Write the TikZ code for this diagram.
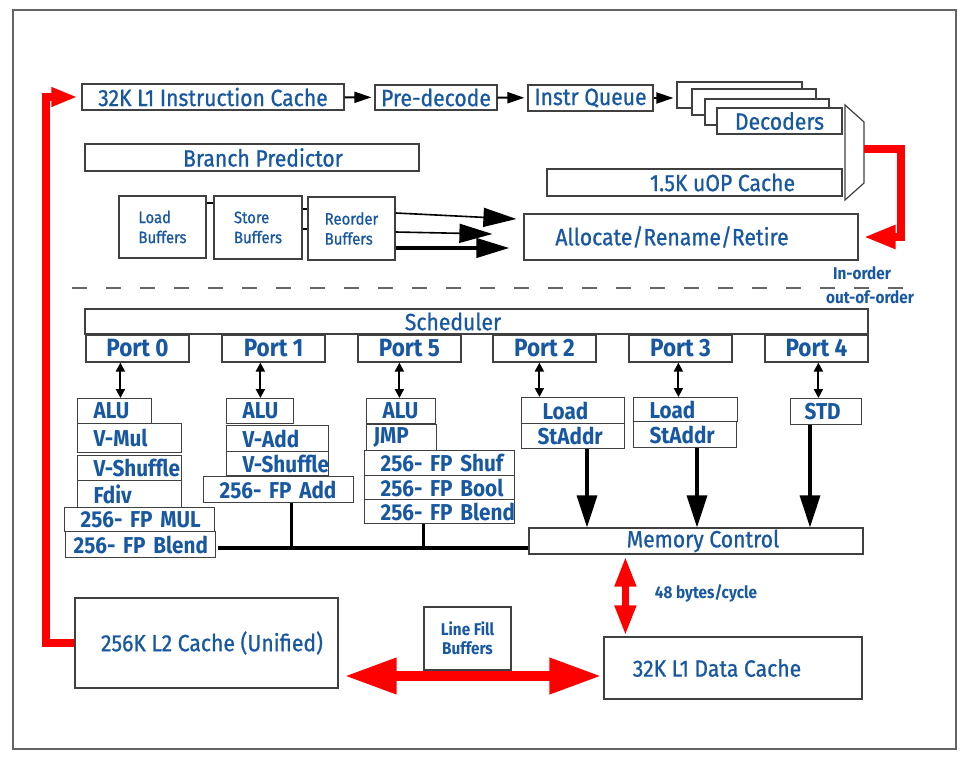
\documentclass[tikz,border=0pt]{standalone}
\usepackage{fontspec}
\setmainfont{Fira Sans}[FakeStretch=0.9]
\newfontfamily\medium{Fira Sans}[FakeStretch=0.9,FakeBold=0.8]
\usetikzlibrary{arrows.meta,calc}
\definecolor{intelblue}{RGB}{24,88,162}
\definecolor{framegray}{RGB}{100,100,100}

\tikzset{
  box/.style={draw=black!75, line width=1.2pt, fill=white, inner sep=0pt, text=intelblue},
  big/.style={font=\fontsize{23.5}{25}\medium},
  port/.style={font=\fontsize{25}{26}\selectfont\bfseries},
  mid/.style={font=\fontsize{23}{24}\selectfont\bfseries},
  small/.style={font=\fontsize{16.5}{20}\medium},
  tiny/.style={font=\fontsize{17}{19}\selectfont\bfseries, text=intelblue},
  unit/.style={box, mid, anchor=north west, align=left, inner ysep=0pt},
  flow/.style={black, line width=2pt, -{Triangle[length=17pt,width=11pt]}, shorten >=3pt},
  fat/.style={black, line width=1.6pt, -{Triangle[length=33pt,width=19pt]}},
  dbl/.style={black, line width=2pt, {Triangle[length=9pt,width=9pt]}-{Triangle[length=9pt,width=9pt]}},
  down/.style={black, line width=3.5pt, -{Triangle[length=32pt,width=20pt]}},
  bus/.style={black, line width=4pt},
  link/.style={black, line width=1.2pt}
}

% a box between two corners: options, name, x1, y1, x2, y2, text
\newcommand{\blk}[7][]{%
  \node[box, minimum width={#5-#3}, minimum height={#6-#4}, #1]
    (#2) at ({(#3+#5)/2},{(#4+#6)/2}) {#7};}
% one execution unit, text set from the left: pad, name, x1, y1, x2, y2, text
\newcommand{\fu}[7][16]{%
  \pgfmathsetmacro\fuw{#5-#3}\pgfmathsetmacro\fuh{#6-#4}\pgfmathsetmacro\futw{#5-#3-2*#1}%
  \node[unit, inner xsep=#1pt, minimum width=\fuw pt, minimum height=\fuh pt,
        text width=\futw pt] (#2) at (#3,#4) {\mbox{#7}};}

\begin{document}
\begin{tikzpicture}[x=1pt,y=-1pt]
  \useasboundingbox (0,0) rectangle (964,759);
  \draw[framegray, line width=1.5pt] (13,10) rectangle (956,749);

  % front end
  \blk[big]{l1i}{82}{84}{344}{110}{32K L1 Instruction Cache}
  \blk[big]{pre}{375}{85}{497}{110}{Pre-decode}
  \blk[big]{iq}{528}{85}{653}{111}{Instr Queue}
  \blk{dec1}{677}{82}{802}{108}{}
  \blk{dec2}{692}{89}{816}{115}{}
  \blk{dec3}{705}{99}{829}{125}{}
  \blk[big]{dec}{717}{108}{842}{134}{Decoders}
  \draw[flow] (l1i) -- (pre);
  \draw[flow] (pre) -- (iq);
  \draw[flow] (iq.east) -- (iq.east -| dec1.west);

  \blk[big]{bp}{85}{144}{419}{171}{\hspace*{22pt}Branch Predictor}
  \blk[big]{uop}{547}{169}{842}{196}{\hspace*{56pt}1.5K uOP Cache}
  \draw[black!75, line width=1.2pt, fill=white]
    (845,105) -- (864,122) -- (864,183) -- (845,200) -- cycle;
  \coordinate (mux) at (864,149);

  \blk[small,align=left]{lb}{119}{196}{206}{258}{Load\\Buffers}
  \blk[small,align=left]{sb}{214}{196}{302}{259}{Store\\Buffers}
  \blk[small,align=left]{rob}{308}{197}{395}{260}{Reorder\\Buffers}
  \draw[link] (lb.east |- 0,203) -- (sb.west |- 0,203);
  \draw[link] (sb.east |- 0,209) -- (rob.west |- 0,209);
  \draw[link] (sb.east |- 0,229) -- (rob.west |- 0,229);

  \blk[big]{alloc}{524}{214}{858}{260}{Allocate/Rename/Retire\hspace*{38pt}}
  \draw[fat] (rob.east |- 0,213) -- ([xshift=-7pt]alloc.west |- 0,219);
  \draw[fat] (rob.east |- 0,232) -- ([xshift=-31pt]alloc.west |- 0,234);
  \draw[fat, line width=4pt] (rob.east |- 0,248) -- ([xshift=-14pt]alloc.west |- 0,248);

  \draw[red, line width=8pt, -{Triangle[length=32pt,width=22pt]}]
    (mux) -| ($(alloc.east)+(42,0)$) -- ([xshift=5pt]alloc.east);

  % in-order / out-of-order split
  \draw[black!60, line width=1.3pt, dash pattern=on 15pt off 19pt] (72,288) -- (918,288);
  \node[tiny] (inord) at (862,273) {In-order};
  \node[tiny] (ooo) at (870,297) {out-of-order};

  % scheduler and ports
  \blk[big]{sch}{85}{309}{868}{334}{Scheduler\hspace*{47pt}}
  \foreach \n/\x in {0/86,1/222,5/358,2/493,3/629,4/765} {
    \blk[port]{p\n}{\x}{335}{\x+103}{362}{Port \n}
  }

  % execution units
  \fu{alu0}{77}{398}{151}{423}{ALU}
  \fu{mul0}{77}{423}{181}{452}{V-Mul}
  \fu{shf0}{77}{455}{181}{480}{V-Shuffle}
  \fu{div0}{77}{480}{181}{507}{Fdiv}
  \fu{fpm0}{64}{507}{214}{531}{256- FP MUL}
  \fu[8]{fpb0}{65}{531}{215}{557}{256- FP Blend}

  \fu{alu1}{226}{398}{293}{423}{ALU}
  \fu{add1}{226}{425}{328}{451}{V-Add}
  \fu{shf1}{226}{451}{328}{475}{V-Shuffle}
  \fu{fpa1}{203}{476}{353}{502}{256- FP Add}

  \fu{alu5}{366}{398}{435}{423}{ALU}
  \fu[7]{jmp5}{366}{424}{436}{450}{JMP}
  \fu{fps5}{364}{450}{514}{475}{256- FP Shuf}
  \fu{fpo5}{364}{475}{514}{499}{256- FP Bool}
  \fu{fpb5}{364}{499}{514}{523}{256- FP Blend}

  \fu[21]{ld2}{521}{397}{624}{423}{Load}
  \fu{sa2}{521}{423}{624}{448}{StAddr}
  \fu{ld3}{633}{397}{737}{421}{Load}
  \fu{sa3}{633}{421}{736}{447}{StAddr}
  \fu[14]{std}{790}{398}{861}{424}{STD}

  \foreach \p/\u/\dx in {0/alu0/35,1/alu1/39,5/alu5/42,2/ld2/47,3/ld3/50,4/std/54} {
    \coordinate (a\p) at ($(p\p.south west)+(\dx,0)$);
    \draw[dbl] (a\p) -- (a\p |- \u.north);
  }

  % memory side
  \blk[big]{mem}{529}{528}{863}{554}{\hspace*{14pt}Memory Control}
  \coordinate (d2) at ($(sa2.south west)+(66,0)$);
  \coordinate (d3) at ($(sa3.south west)+(64,0)$);
  \coordinate (d4) at ($(std.south west)+(20,0)$);
  \draw[down] (d2) -- (d2 |- mem.north);
  \draw[down] (d3) -- (d3 |- mem.north);
  \draw[down] (d4) -- (d4 |- mem.north);

  \coordinate (busy) at (0,548);
  \coordinate (t1) at ($(fpa1.south west)+(88,0)$);
  \coordinate (t5) at ($(fpb5.south west)+(59,0)$);
  \draw[bus] ([xshift=2pt]fpb0.east |- busy) -- (mem.west |- busy);
  \draw[black, line width=3pt] (t1) -- (t1 |- busy);
  \draw[black, line width=3pt] (t5) -- (t5 |- busy);

  \blk[big]{l2}{75}{598}{338}{688}{\hspace*{11pt}256K L2 Cache (Unified)}
  \blk[tiny,align=center]{lfb}{424}{607}{511}{670}{Line Fill\\Buffers}
  \blk[big]{l1d}{604}{637}{862}{699}{32K L1 Data Cache\hspace*{32pt}}
  \node[tiny] (bw) at (706,593) {48 bytes/cycle};

  \draw[red, line width=7pt, {Triangle[length=30pt,width=20pt]}-{Triangle[length=30pt,width=20pt]}]
    ($(mem.south west)+(97,2)$) -- ($(l1d.north west)+(22,-1)$);
  \draw[red, line width=10pt, {Triangle[length=52pt,width=34pt]}-{Triangle[length=52pt,width=34pt]}]
    ($(l2.east)+(6,33)$) -- ($(l1d.west)+(-2,8)$);
  \draw[red, line width=8pt, -{Triangle[length=26pt,width=18pt]}]
    (l2.west) -- ++(-28,0) |- ([xshift=-4pt]l1i.west);
\end{tikzpicture}
\end{document}
